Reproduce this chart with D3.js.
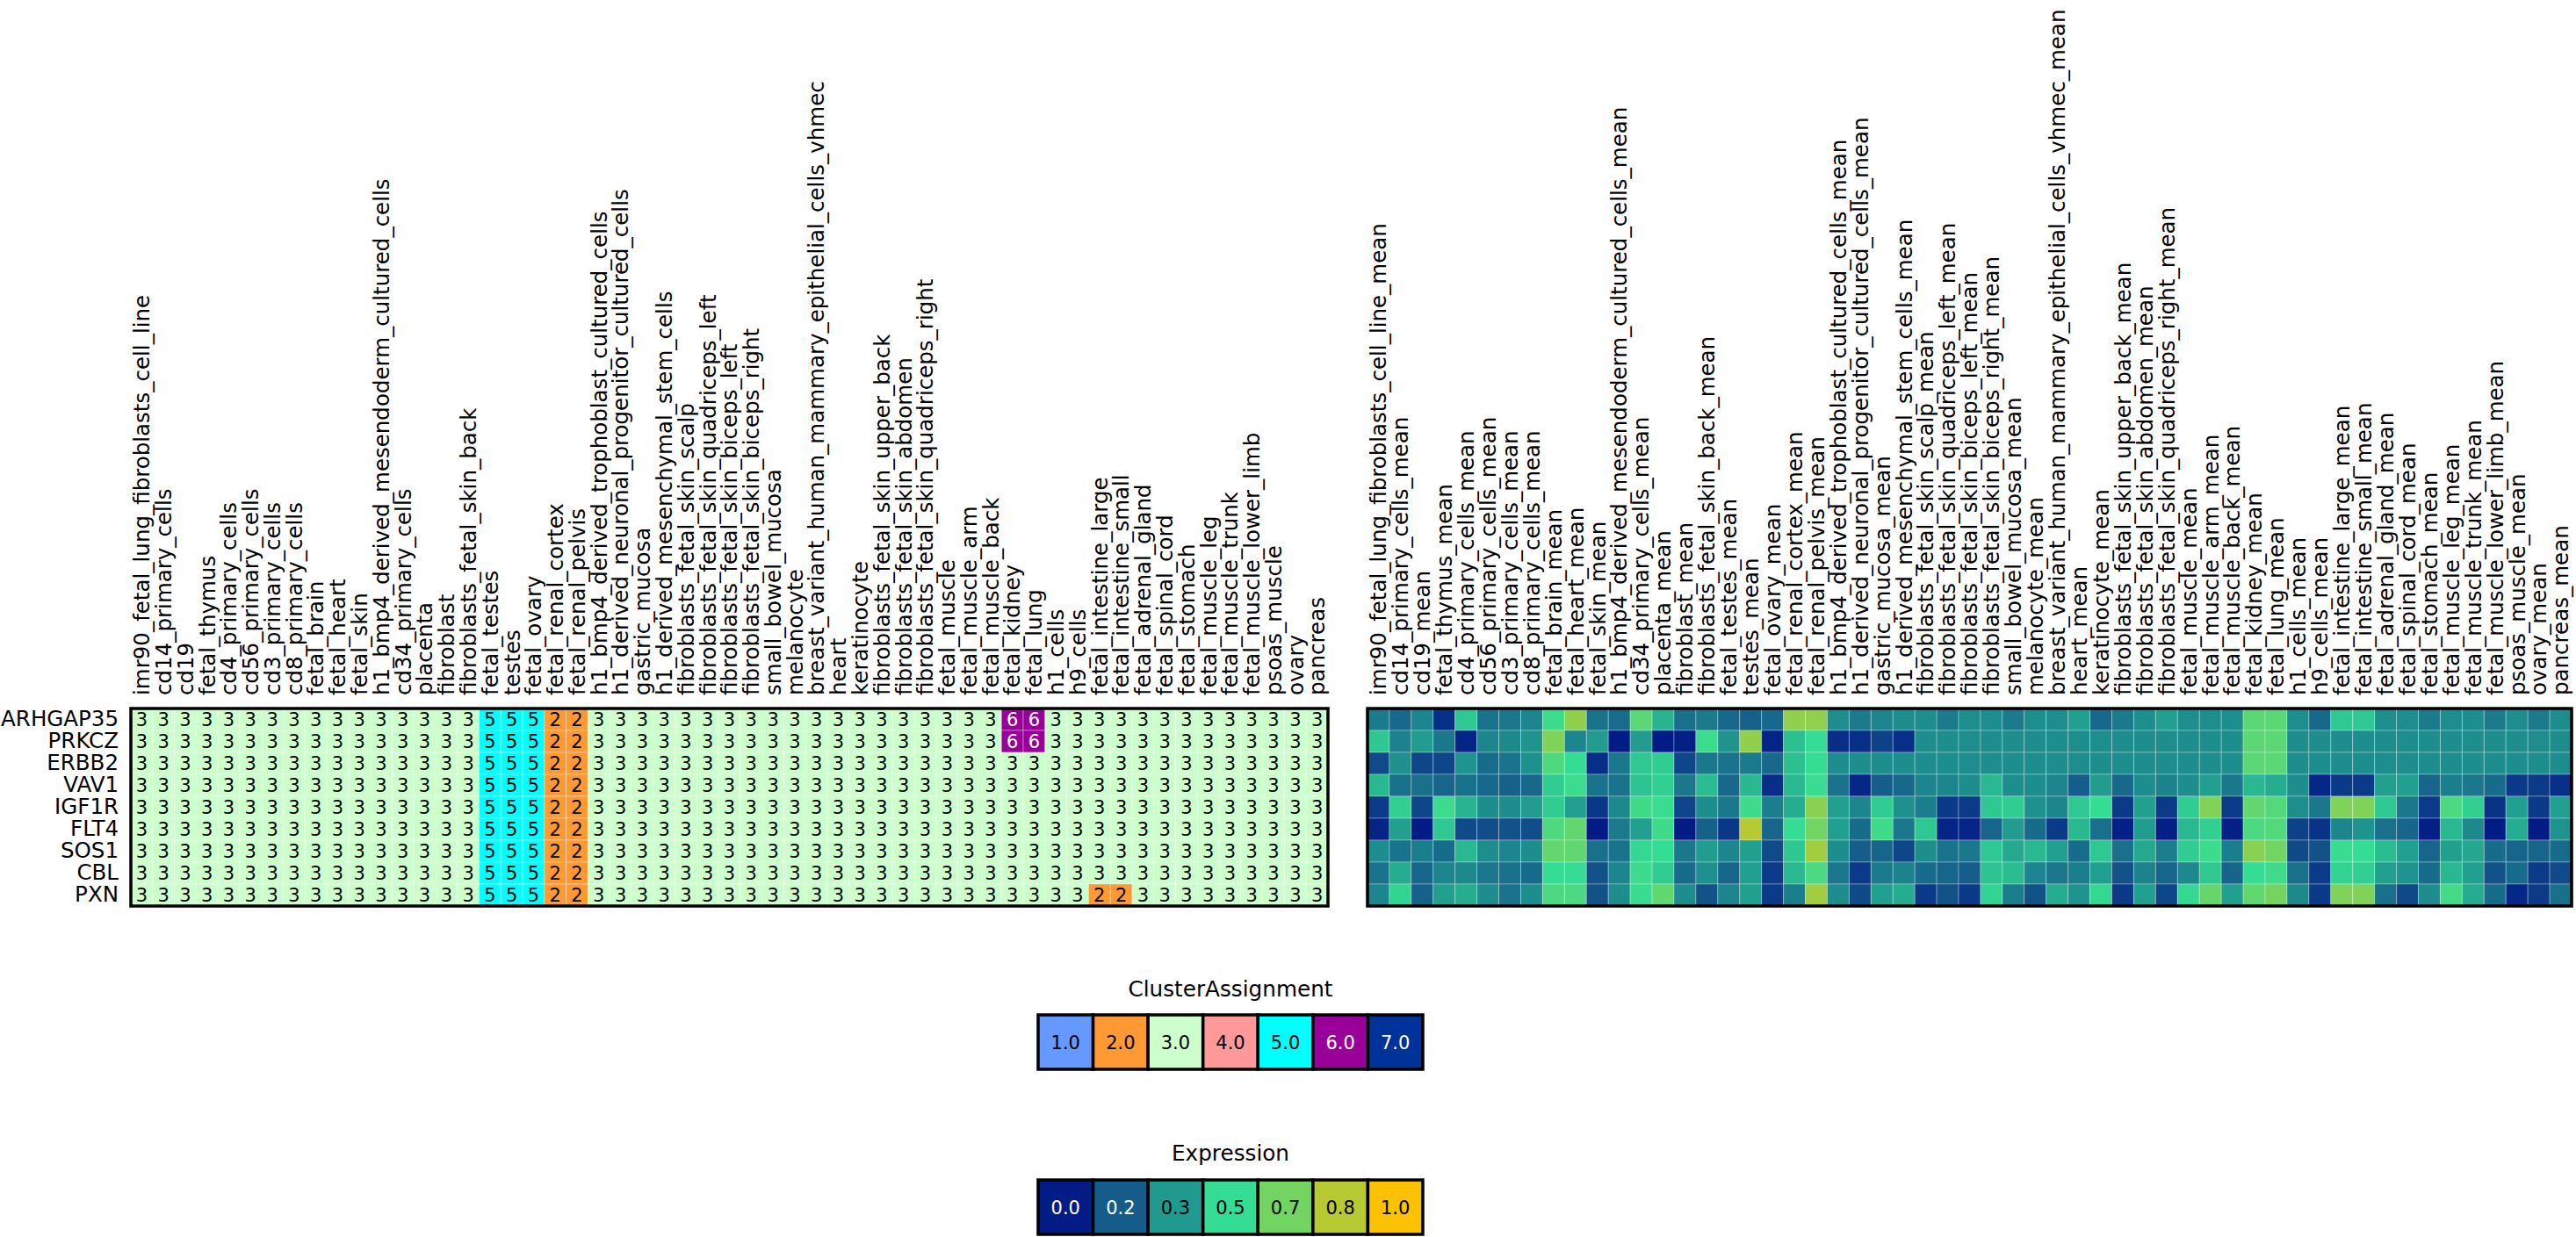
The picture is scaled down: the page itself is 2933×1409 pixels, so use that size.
<!DOCTYPE html>
<html><head><meta charset="utf-8">
<script src="https://cdn.jsdelivr.net/npm/d3@7"></script>
<style>body{margin:0;background:#fff;} svg text{font-family:"DejaVu Sans",sans-serif;}</style>
</head><body><svg id="chart" width="2933" height="1409"></svg>
<script>
const genes = ["ARHGAP35","PRKCZ","ERBB2","VAV1","IGF1R","FLT4","SOS1","CBL","PXN"];
const tissues = ["imr90_fetal_lung_fibroblasts_cell_line","cd14_primary_cells","cd19","fetal_thymus","cd4_primary_cells","cd56_primary_cells","cd3_primary_cells","cd8_primary_cells","fetal_brain","fetal_heart","fetal_skin","h1_bmp4_derived_mesendoderm_cultured_cells","cd34_primary_cells","placenta","fibroblast","fibroblasts_fetal_skin_back","fetal_testes","testes","fetal_ovary","fetal_renal_cortex","fetal_renal_pelvis","h1_bmp4_derived_trophoblast_cultured_cells","h1_derived_neuronal_progenitor_cultured_cells","gastric_mucosa","h1_derived_mesenchymal_stem_cells","fibroblasts_fetal_skin_scalp","fibroblasts_fetal_skin_quadriceps_left","fibroblasts_fetal_skin_biceps_left","fibroblasts_fetal_skin_biceps_right","small_bowel_mucosa","melanocyte","breast_variant_human_mammary_epithelial_cells_vhmec","heart","keratinocyte","fibroblasts_fetal_skin_upper_back","fibroblasts_fetal_skin_abdomen","fibroblasts_fetal_skin_quadriceps_right","fetal_muscle","fetal_muscle_arm","fetal_muscle_back","fetal_kidney","fetal_lung","h1_cells","h9_cells","fetal_intestine_large","fetal_intestine_small","fetal_adrenal_gland","fetal_spinal_cord","fetal_stomach","fetal_muscle_leg","fetal_muscle_trunk","fetal_muscle_lower_limb","psoas_muscle","ovary","pancreas"];
const meanTissues = tissues.map(t => t + "_mean");

const clusterCodes = [1,2,3,4,5,6,7];
const clusterColors = ["#6699ff","#ff9933","#ccffcc","#ff9999","#00ffff","#990099","#003399"];
const clusterLegendLabels = ["1.0","2.0","3.0","4.0","5.0","6.0","7.0"];

const exprStops = [0, 0.1667, 0.3333, 0.5, 0.6667, 0.8333, 1];
const exprColors = ["#021c86","#155c8a","#20998e","#35dc93","#74d461","#b7ca32","#fcc200"];
const exprLegendLabels = ["0.0","0.2","0.3","0.5","0.7","0.8","1.0"];

const clusterValues = [
 [3,3,3,3,3,3,3,3,3,3,3,3,3,3,3,3,5,5,5,2,2,3,3,3,3,3,3,3,3,3,3,3,3,3,3,3,3,3,3,3,6,6,3,3,3,3,3,3,3,3,3,3,3,3,3],
 [3,3,3,3,3,3,3,3,3,3,3,3,3,3,3,3,5,5,5,2,2,3,3,3,3,3,3,3,3,3,3,3,3,3,3,3,3,3,3,3,6,6,3,3,3,3,3,3,3,3,3,3,3,3,3],
 [3,3,3,3,3,3,3,3,3,3,3,3,3,3,3,3,5,5,5,2,2,3,3,3,3,3,3,3,3,3,3,3,3,3,3,3,3,3,3,3,3,3,3,3,3,3,3,3,3,3,3,3,3,3,3],
 [3,3,3,3,3,3,3,3,3,3,3,3,3,3,3,3,5,5,5,2,2,3,3,3,3,3,3,3,3,3,3,3,3,3,3,3,3,3,3,3,3,3,3,3,3,3,3,3,3,3,3,3,3,3,3],
 [3,3,3,3,3,3,3,3,3,3,3,3,3,3,3,3,5,5,5,2,2,3,3,3,3,3,3,3,3,3,3,3,3,3,3,3,3,3,3,3,3,3,3,3,3,3,3,3,3,3,3,3,3,3,3],
 [3,3,3,3,3,3,3,3,3,3,3,3,3,3,3,3,5,5,5,2,2,3,3,3,3,3,3,3,3,3,3,3,3,3,3,3,3,3,3,3,3,3,3,3,3,3,3,3,3,3,3,3,3,3,3],
 [3,3,3,3,3,3,3,3,3,3,3,3,3,3,3,3,5,5,5,2,2,3,3,3,3,3,3,3,3,3,3,3,3,3,3,3,3,3,3,3,3,3,3,3,3,3,3,3,3,3,3,3,3,3,3],
 [3,3,3,3,3,3,3,3,3,3,3,3,3,3,3,3,5,5,5,2,2,3,3,3,3,3,3,3,3,3,3,3,3,3,3,3,3,3,3,3,3,3,3,3,3,3,3,3,3,3,3,3,3,3,3],
 [3,3,3,3,3,3,3,3,3,3,3,3,3,3,3,3,5,5,5,2,2,3,3,3,3,3,3,3,3,3,3,3,3,3,3,3,3,3,3,3,3,3,3,3,2,2,3,3,3,3,3,3,3,3,3]
];

const expressionValues = [
 [0.25,0.2,0.28,0.05,0.45,0.23,0.24,0.28,0.52,0.74,0.23,0.21,0.6,0.4,0.22,0.25,0.2,0.18,0.2,0.74,
  0.74,0.3,0.25,0.28,0.3,0.3,0.25,0.3,0.3,0.25,0.3,0.3,0.35,0.2,0.25,0.3,0.35,0.3,0.3,0.3,0.6,0.6,0.3,0.2,0.45,0.45,0.3,0.3,0.25,0.3,0.3,0.25,0.3,0.25,0.3],
 [0.45,0.27,0.34,0.24,0.02,0.28,0.29,0.32,0.7,0.28,0.34,0.0,0.34,0.0,0.01,0.52,0.32,0.74,0.02,0.43,
  0.5,0.05,0.05,0.1,0.05,0.3,0.3,0.3,0.3,0.3,0.3,0.3,0.3,0.3,0.3,0.3,0.3,0.3,0.3,0.3,0.6,0.6,0.3,0.3,0.3,0.3,0.3,0.3,0.3,0.3,0.3,0.3,0.3,0.3,0.3],
 [0.12,0.31,0.11,0.11,0.32,0.21,0.23,0.31,0.57,0.5,0.05,0.24,0.45,0.46,0.11,0.24,0.23,0.25,0.2,0.43,
  0.5,0.3,0.3,0.3,0.3,0.3,0.3,0.3,0.3,0.3,0.3,0.3,0.3,0.3,0.3,0.3,0.3,0.3,0.3,0.3,0.6,0.6,0.3,0.3,0.3,0.3,0.3,0.3,0.3,0.3,0.3,0.3,0.3,0.3,0.3],
 [0.41,0.22,0.22,0.19,0.22,0.2,0.18,0.2,0.46,0.52,0.23,0.23,0.44,0.47,0.24,0.42,0.2,0.41,0.05,0.41,
  0.51,0.23,0.03,0.17,0.2,0.28,0.28,0.3,0.41,0.3,0.3,0.28,0.17,0.34,0.2,0.3,0.27,
  0.3,0.35,0.24,0.41,0.38,0.3,0.03,0.08,0.08,0.35,0.35,0.19,0.26,0.24,0.21,0.08,0.08,0.05],
 [0.08,0.47,0.11,0.52,0.4,0.3,0.3,0.34,0.46,0.35,0.07,0.29,0.53,0.51,0.11,0.3,0.24,0.53,
  0.26,0.38,0.72,0.35,0.28,0.46,0.31,0.26,0.08,0.08,0.45,0.46,0.31,0.28,0.45,0.5,0.08,0.35,0.08,
  0.46,0.7,0.08,0.62,0.58,0.3,0.24,0.7,0.7,0.45,0.24,0.08,0.56,0.47,0.06,0.35,0.08,0.35],
 [0.02,0.35,0.0,0.45,0.12,0.13,0.14,0.13,0.57,0.62,0.0,0.25,0.35,0.53,0.0,0.18,0.07,0.83,
  0.19,0.5,0.66,0.35,0.21,0.53,0.24,0.45,0.02,0.02,0.19,0.34,0.21,0.08,0.41,0.22,0.01,0.34,0.01,
  0.41,0.47,0.01,0.56,0.58,0.1,0.06,0.28,0.32,0.22,0.19,0.01,0.41,0.29,0.0,0.38,0.0,0.32],
 [0.3,0.23,0.26,0.21,0.41,0.3,0.28,0.3,0.62,0.62,0.22,0.23,0.49,0.5,0.24,0.34,0.28,0.35,
  0.12,0.45,0.78,0.3,0.17,0.19,0.11,0.3,0.23,0.24,0.45,0.37,0.41,0.35,0.21,0.45,0.22,0.37,0.26,
  0.46,0.52,0.26,0.72,0.66,0.12,0.14,0.51,0.5,0.42,0.35,0.19,0.35,0.37,0.21,0.19,0.19,0.21],
 [0.23,0.38,0.19,0.28,0.29,0.24,0.22,0.21,0.5,0.5,0.14,0.28,0.52,0.46,0.21,0.31,0.19,0.35,
  0.08,0.41,0.56,0.24,0.08,0.25,0.27,0.21,0.19,0.17,0.44,0.42,0.28,0.24,0.26,0.35,0.14,0.27,0.19,
  0.29,0.45,0.19,0.5,0.53,0.22,0.08,0.48,0.47,0.35,0.32,0.21,0.41,0.35,0.14,0.21,0.08,0.12],
 [0.28,0.48,0.18,0.35,0.38,0.3,0.23,0.3,0.56,0.56,0.14,0.3,0.51,0.62,0.3,0.14,0.28,0.35,
  0.08,0.26,0.78,0.3,0.12,0.35,0.38,0.08,0.14,0.08,0.48,0.26,0.14,0.38,0.32,0.49,0.08,0.35,0.11,
  0.49,0.63,0.35,0.62,0.67,0.29,0.08,0.7,0.7,0.22,0.12,0.3,0.54,0.38,0.21,0.03,0.08,0.22]
];

const svg = d3.select("#chart");
const FONT = 24.5;
const topY = 807, botY = 1032;

const y = d3.scaleBand().domain(genes).range([topY, botY]);
const xL = d3.scaleBand().domain(tissues).range([149, 1512]);
const xR = d3.scaleBand().domain(meanTissues).range([1557, 2928]);

const clusterColor = d3.scaleOrdinal().domain(clusterCodes).range(clusterColors);
const exprColor = d3.scaleLinear().domain(exprStops).range(exprColors).clamp(true);

function textColorFor(hex) {
  const c = d3.rgb(hex);
  const lum = 0.299*c.r + 0.587*c.g + 0.114*c.b;
  return lum < 110 ? "#fff" : "#000";
}

// Left heatmap (cluster)
const cellsL = [];
genes.forEach((g, r) => tissues.forEach((t, c) => cellsL.push({g, t, v: clusterValues[r][c]})));
const gL = svg.append("g");
gL.selectAll("rect").data(cellsL).join("rect")
  .attr("x", d => xL(d.t)).attr("y", d => y(d.g))
  .attr("width", xL.bandwidth()).attr("height", y.bandwidth())
  .attr("fill", d => clusterColor(d.v))
  .attr("stroke", "rgba(255,255,255,0.35)").attr("stroke-width", 1);
gL.selectAll("text").data(cellsL).join("text")
  .attr("x", d => xL(d.t) + xL.bandwidth()/2).attr("y", d => y(d.g) + y.bandwidth()/2)
  .attr("dy", "0.36em").attr("text-anchor", "middle")
  .attr("font-size", 21)
  .attr("fill", d => textColorFor(clusterColor(d.v)))
  .text(d => d.v);
svg.append("rect").attr("x", 149).attr("y", topY).attr("width", 1512-149).attr("height", botY-topY)
  .attr("fill", "none").attr("stroke", "#000").attr("stroke-width", 3.5);

// Right heatmap (expression)
const cellsR = [];
genes.forEach((g, r) => meanTissues.forEach((t, c) => cellsR.push({g, t, v: expressionValues[r][c]})));
const gR = svg.append("g");
gR.selectAll("rect").data(cellsR).join("rect")
  .attr("x", d => xR(d.t)).attr("y", d => y(d.g))
  .attr("width", xR.bandwidth()).attr("height", y.bandwidth())
  .attr("fill", d => exprColor(d.v))
  .attr("stroke", "rgba(255,255,255,0.3)").attr("stroke-width", 1);
svg.append("rect").attr("x", 1557).attr("y", topY).attr("width", 2928-1557).attr("height", botY-topY)
  .attr("fill", "none").attr("stroke", "#000").attr("stroke-width", 3.5);

// Axes
function colAxis(scale) {
  const g = svg.append("g").attr("transform", `translate(0,${topY})`)
    .call(d3.axisTop(scale).tickSize(0).tickPadding(0));
  g.select(".domain").remove();
  g.selectAll("text")
    .attr("transform", "rotate(-90)")
    .attr("x", 15).attr("y", 0).attr("dy", "0.36em")
    .style("text-anchor", "start")
    .style("font-size", FONT + "px")
    .style("font-family", "DejaVu Sans").attr("fill", "#000");
}
colAxis(xL);
colAxis(xR);

const rowAx = svg.append("g").attr("transform", "translate(149,0)")
  .call(d3.axisLeft(y).tickSize(0).tickPadding(14));
rowAx.select(".domain").remove();
rowAx.selectAll("text").style("font-size", FONT + "px").style("font-family", "DejaVu Sans").attr("fill", "#000");

// Legends
function legend(title, labels, colors, titleY, boxY) {
  const lx = d3.scaleBand().domain(labels).range([1182, 1620]);
  const g = svg.append("g");
  g.append("text").attr("x", (1182+1620)/2).attr("y", titleY)
    .attr("text-anchor", "middle").attr("font-size", 24.7).text(title);
  g.selectAll("rect").data(labels).join("rect")
    .attr("x", d => lx(d)).attr("y", boxY)
    .attr("width", lx.bandwidth()).attr("height", 62)
    .attr("fill", (d, i) => colors[i]).attr("stroke", "#000").attr("stroke-width", 3.5);
  g.selectAll("text.lab").data(labels).join("text").attr("class", "lab")
    .attr("x", d => lx(d) + lx.bandwidth()/2).attr("y", boxY + 31)
    .attr("dy", "0.36em").attr("text-anchor", "middle").attr("font-size", 21)
    .attr("fill", (d, i) => textColorFor(colors[i])).text(d => d);
}
legend("ClusterAssignment", clusterLegendLabels, clusterColors, 1135, 1156);
legend("Expression", exprLegendLabels, exprColors, 1322, 1344);
</script></body></html>
